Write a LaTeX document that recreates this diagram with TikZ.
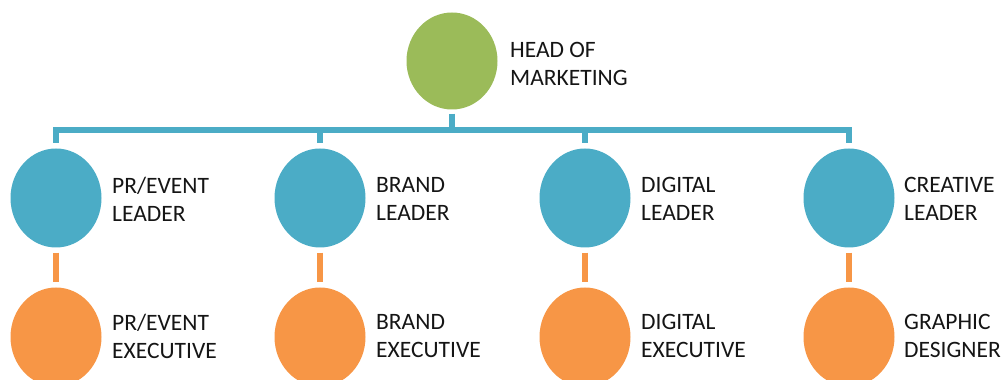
\documentclass[tikz,border=0pt]{standalone}
\usepackage{fontspec}
\setmainfont{Carlito}
\usetikzlibrary{shapes.geometric}
\definecolor{cgreen}{HTML}{9BBB59}
\definecolor{cblue}{HTML}{4BACC6}
\definecolor{corange}{HTML}{F79646}
\definecolor{ctext}{HTML}{151515}
\tikzset{
  bubble/.style={ellipse, inner sep=0pt, minimum width=91pt, minimum height=99pt},
  headb/.style={bubble, fill=cgreen},
  leadb/.style={bubble, fill=cblue},
  execb/.style={bubble, fill=corange},
  lbl/.style={anchor=west, align=left, text=ctext, inner sep=0pt,
    font=\fontsize{23.5pt}{28pt}\selectfont},
  bluel/.style={draw=cblue, line width=6pt},
  orangel/.style={draw=corange, line width=6pt, shorten <=5pt, shorten >=5pt},
}
\begin{document}
\begin{tikzpicture}[x=1pt,y=1pt]
\useasboundingbox (0,0) rectangle (1005,380);
\clip (0,0) rectangle (1005,380);
% head
\node[headb, minimum height=97pt] (head) at (452,319) {};
\node[lbl] (headt) at (510,316) {HEAD OF\\MARKETING};
% bar
\coordinate (barL) at (56,250);
\coordinate (barR) at (849,250);
% leaders
\node[leadb] (l1) at (56,182) {};
\node[leadb] (l2) at (320,182) {};
\node[leadb] (l3) at (585,182) {};
\node[leadb] (l4) at (849,182) {};
\node[lbl] (l1t) at (112,181) {PR/EVENT\\LEADER};
\node[lbl] (l2t) at (376,181) {BRAND\\LEADER};
\node[lbl] (l3t) at (641,181) {DIGITAL\\LEADER};
\node[lbl] (l4t) at (904,181) {CREATIVE\\LEADER};
% executives
\node[execb] (e1) at (56,43) {};
\node[execb] (e2) at (320,43) {};
\node[execb] (e3) at (585,43) {};
\node[execb] (e4) at (849,43) {};
\node[lbl] (e1t) at (112,44) {PR/EVENT\\EXECUTIVE};
\node[lbl] (e2t) at (376,44) {BRAND\\EXECUTIVE};
\node[lbl] (e3t) at (641,44) {DIGITAL\\EXECUTIVE};
\node[lbl] (e4t) at (904,44) {GRAPHIC\\DESIGNER};
% connectors
\draw[bluel, line cap=rect] (barL) -- (barR);
\draw[bluel, shorten <=4pt] (head.south) -- (head.south |- barL);
\draw[bluel, shorten >=5pt] (l1.north |- barL) -- (l1.north);
\draw[bluel, shorten >=5pt] (l2.north |- barL) -- (l2.north);
\draw[bluel, shorten >=5pt] (l3.north |- barL) -- (l3.north);
\draw[bluel, shorten >=5pt] (l4.north |- barL) -- (l4.north);
\draw[orangel] (l1.south) -- (e1.north);
\draw[orangel] (l2.south) -- (e2.north);
\draw[orangel] (l3.south) -- (e3.north);
\draw[orangel] (l4.south) -- (e4.north);
\end{tikzpicture}
\end{document}
